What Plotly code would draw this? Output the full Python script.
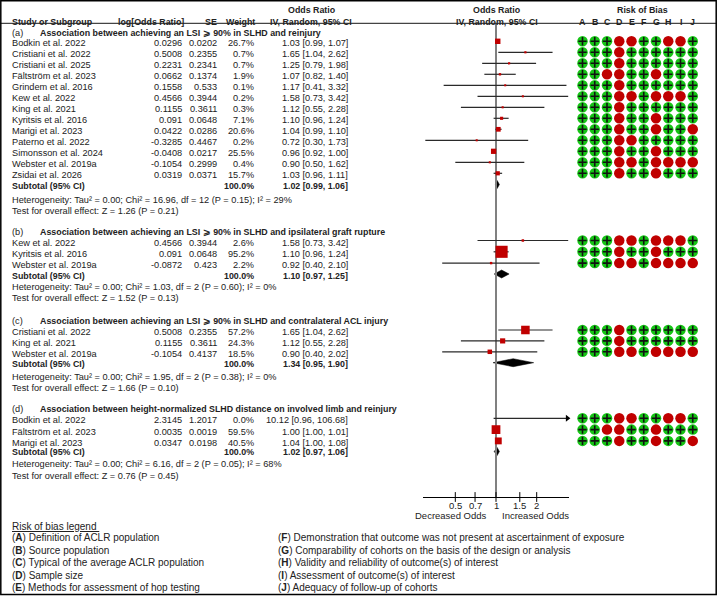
import math
import plotly.graph_objects as go

# ---- data ----
a_study = ["Bodkin et al. 2022", "Cristiani et al. 2022", "Cristiani et al. 2025", "Fältström et al. 2023",
           "Grindem et al. 2016", "Kew et al. 2022", "King et al. 2021", "Kyritsis et al. 2016",
           "Marigi et al. 2023", "Paterno et al. 2022", "Simonsson et al. 2024", "Webster et al. 2019a",
           "Zsidai et al. 2026"]
a_logor = [0.0296, 0.5008, 0.2231, 0.0662, 0.1558, 0.4566, 0.1155, 0.091, 0.0422, -0.3285, -0.0408, -0.1054, 0.0319]
a_se = [0.0202, 0.2355, 0.2341, 0.1374, 0.533, 0.3944, 0.3611, 0.0648, 0.0286, 0.4467, 0.0217, 0.2999, 0.0371]
a_weight = [26.7, 0.7, 0.7, 1.9, 0.1, 0.2, 0.3, 7.1, 20.6, 0.2, 25.5, 0.4, 15.7]
a_or = [1.03, 1.65, 1.25, 1.07, 1.17, 1.58, 1.12, 1.10, 1.04, 0.72, 0.96, 0.90, 1.03]
a_lo = [0.99, 1.04, 0.79, 0.82, 0.41, 0.73, 0.55, 0.96, 0.99, 0.30, 0.92, 0.50, 0.96]
a_hi = [1.07, 2.62, 1.98, 1.40, 3.32, 3.42, 2.28, 1.24, 1.10, 1.73, 1.00, 1.62, 1.11]
a_total = [1.02, 0.99, 1.06]
a_het = "Heterogeneity: Tau² = 0.00; Chi² = 16.96, df = 12 (P = 0.15); I² = 29%"
a_test = "Test for overall effect: Z = 1.26 (P = 0.21)"

b_study = ["Kew et al. 2022", "Kyritsis et al. 2016", "Webster et al. 2019a"]
b_logor = [0.4566, 0.091, -0.0872]
b_se = [0.3944, 0.0648, 0.423]
b_weight = [2.6, 95.2, 2.2]
b_or = [1.58, 1.10, 0.92]
b_lo = [0.73, 0.96, 0.40]
b_hi = [3.42, 1.24, 2.10]
b_total = [1.10, 0.97, 1.25]
b_het = "Heterogeneity: Tau² = 0.00; Chi² = 1.03, df = 2 (P = 0.60); I² = 0%"
b_test = "Test for overall effect: Z = 1.52 (P = 0.13)"

c_study = ["Cristiani et al. 2022", "King et al. 2021", "Webster et al. 2019a"]
c_logor = [0.5008, 0.1155, -0.1054]
c_se = [0.2355, 0.3611, 0.4137]
c_weight = [57.2, 24.3, 18.5]
c_or = [1.65, 1.12, 0.90]
c_lo = [1.04, 0.55, 0.40]
c_hi = [2.62, 2.28, 2.02]
c_total = [1.34, 0.95, 1.90]
c_het = "Heterogeneity: Tau² = 0.00; Chi² = 1.95, df = 2 (P = 0.38); I² = 0%"
c_test = "Test for overall effect: Z = 1.66 (P = 0.10)"

d_study = ["Bodkin et al. 2022", "Fältström et al. 2023", "Marigi et al. 2023"]
d_logor = [2.3145, 0.0035, 0.0347]
d_se = [1.2017, 0.0019, 0.0198]
d_weight = [0.0, 59.5, 40.5]
d_or = [10.12, 1.00, 1.04]
d_lo = [0.96, 1.00, 1.00]
d_hi = [106.68, 1.01, 1.08]
d_total = [1.02, 0.97, 1.06]
d_het = "Heterogeneity: Tau² = 0.00; Chi² = 6.16, df = 2 (P = 0.05); I² = 68%"
d_test = "Test for overall effect: Z = 0.76 (P = 0.45)"

# risk of bias, domains A..J ('+' low risk, '-' high risk)
rob = {
    "Bodkin et al. 2022": "+++--++--+",
    "Cristiani et al. 2022": "+++-++++++",
    "Cristiani et al. 2025": "+++-++++++",
    "Fältström et al. 2023": "++--++-+++",
    "Grindem et al. 2016": "+++-++++++",
    "Kew et al. 2022": "+++--+---+",
    "King et al. 2021": "+++-++++++",
    "Kyritsis et al. 2016": "+++-++-+++",
    "Marigi et al. 2023": "+++-++-++-",
    "Paterno et al. 2022": "+++--+++++",
    "Simonsson et al. 2024": "+++-++-+++",
    "Webster et al. 2019a": "+++--+----",
    "Zsidai et al. 2026": "+++-++-+++",
}
rob_letters = list("ABCDEFGHIJ")

titles = ["Association between achieving an LSI ⩾ 90% in SLHD and reinjury",
          "Association between achieving an LSI ⩾ 90% in SLHD and ipsilateral graft rupture",
          "Association between achieving an LSI ⩾ 90% in SLHD and contralateral ACL injury",
          "Association between height-normalized SLHD distance on involved limb and reinjury"]

legend_left = ["(<b>A</b>) Definition of ACLR population", "(<b>B</b>) Source population",
               "(<b>C</b>) Typical of the average ACLR population", "(<b>D</b>) Sample size",
               "(<b>E</b>) Methods for assessment of hop testing"]
legend_right = ["(<b>F</b>) Demonstration that outcome was not present at ascertainment of exposure",
                "(<b>G</b>) Comparability of cohorts on the basis of the design or analysis",
                "(<b>H</b>) Validity and reliability of outcome(s) of interest",
                "(<b>I</b>) Assessment of outcome(s) of interest",
                "(<b>J</b>) Adequacy of follow-up of cohorts"]

tick_vals = [0.5, 0.7, 1, 1.5, 2]

# ---- layout (pixel coordinates) ----
W, H = 717, 596
FONT = "Liberation Sans, Arial, sans-serif"
FS = 9.2
FSB = 8.85
TXT = "#222222"
RED = "#C00000"
GREEN = "#16C416"
AX_LO, AX_HI = -0.54, 0.54      # log10 range of forest axis
AX_X0, AX_X1 = 423, 569
AX_Y = 497

sections = [
    dict(key="(a)", title=titles[0], study=a_study, logor=a_logor, se=a_se, w=a_weight, o=a_or, lo=a_lo, hi=a_hi,
         tot=a_total, het=a_het, test=a_test, yh=32.5, y0=41.3, step=11.0, ysub=184.5, yhet=199.5, ytest=210.5),
    dict(key="(b)", title=titles[1], study=b_study, logor=b_logor, se=b_se, w=b_weight, o=b_or, lo=b_lo, hi=b_hi,
         tot=b_total, het=b_het, test=b_test, yh=231.7, y0=240.5, step=11.3, ysub=274, yhet=287.3, ytest=298.3),
    dict(key="(c)", title=titles[2], study=c_study, logor=c_logor, se=c_se, w=c_weight, o=c_or, lo=c_lo, hi=c_hi,
         tot=c_total, het=c_het, test=c_test, yh=321, y0=330, step=10.9, ysub=362.7, yhet=377.3, ytest=388.3),
    dict(key="(d)", title=titles[3], study=d_study, logor=d_logor, se=d_se, w=d_weight, o=d_or, lo=d_lo, hi=d_hi,
         tot=d_total, het=d_het, test=d_test, yh=409, y0=418.3, step=11.3, ysub=451.5, yhet=464, ytest=476),
]

X_STUDY, X_LOGOR, X_SE, X_W, X_CI = 10, 184, 218.5, 256, 350
ROB_X0, ROB_DX = 582.5, 12.25

fig = go.Figure()
annotations = []


def ann(x, y, text, anchor="left", size=None, bold=False, color=TXT, xref="x2"):
    if size is None:
        size = FSB if bold else FS
    annotations.append(dict(x=x, y=y, xref=xref, yref="y", showarrow=False, xanchor=anchor, yanchor="middle",
                            text=("<b>%s</b>" % text) if bold else text,
                            font=dict(size=size, color=color, family=FONT)))


# headers
ann(311.5, 9.5, "Odds Ratio", "center", bold=True)
ann(X_STUDY, 21.5, "Study or Subgroup", bold=True)
ann(186, 21.5, "log[Odds Ratio]", "right", bold=True)
ann(218.5, 21.5, "SE", "right", bold=True)
ann(257, 21.5, "Weight", "right", bold=True)
ann(310.5, 21.5, "IV, Random, 95% CI", "center", bold=True)
ann(496.5, 9.5, "Odds Ratio", "center", bold=True)
ann(496.5, 21.5, "IV, Random, 95% CI", "center", bold=True)
ann(642.5, 9.5, "Risk of Bias", "center", bold=True)
for j, L in enumerate(rob_letters):
    ann(ROB_X0 + ROB_DX * j, 21.5, L, "center", bold=True)

ci_x, ci_y = [], []
sq_x, sq_y, sq_s = [], [], []
arrow_y = []
rob_gx, rob_gy, rob_rx, rob_ry = [], [], [], []

for s in sections:
    ann(X_STUDY, s["yh"], s["key"])
    ann(37.5, s["yh"], s["title"], bold=True)
    for i, name in enumerate(s["study"]):
        y = s["y0"] + s["step"] * i
        yt = y + 2
        ann(X_STUDY, yt, name)
        ann(X_LOGOR, yt, str(s["logor"][i]), "right")
        ann(X_SE, yt, str(s["se"][i]), "right")
        ann(X_W, yt, "%.1f%%" % s["w"][i], "right")
        ann(X_CI, yt, "%.2f [%.2f, %.2f]" % (s["o"][i], s["lo"][i], s["hi"][i]), "right")
        hi = s["hi"][i]
        if hi > 10 ** AX_HI:
            hi = 10 ** (AX_HI - 0.012)
            arrow_y.append(y)
        ci_x += [s["lo"][i], hi, None]
        ci_y += [y, y, None]
        if s["o"][i] < 10 ** AX_HI:
            sq_x.append(s["o"][i])
            sq_y.append(y)
            sq_s.append(2 + 10.5 * (s["w"][i] / 100) ** 0.85)
        for j, c in enumerate(rob[name]):
            if c == "+":
                rob_gx.append(ROB_X0 + ROB_DX * j)
                rob_gy.append(y)
            else:
                rob_rx.append(ROB_X0 + ROB_DX * j)
                rob_ry.append(y)
    ysub_t = s["ysub"] + (0.5 if s["key"] == "(d)" else 1.5)
    ann(X_STUDY, ysub_t, "Subtotal (95% CI)", bold=True)
    ann(X_W, ysub_t, "100.0%", "right", bold=True)
    ann(X_CI, ysub_t, "%.2f [%.2f, %.2f]" % tuple(s["tot"]), "right", bold=True)
    ann(X_STUDY, s["yhet"], s["het"])
    ann(X_STUDY, s["ytest"], s["test"])
    o, lo, hi = s["tot"]
    fig.add_trace(go.Scatter(x=[lo, o, hi, o, lo], y=[s["ysub"], s["ysub"] - 4, s["ysub"], s["ysub"] + 4, s["ysub"]],
                             mode="lines", fill="toself", fillcolor="black", line=dict(color="black", width=0.5),
                             xaxis="x", yaxis="y", hoverinfo="skip"))

# vertical line of no effect
fig.add_trace(go.Scatter(x=[1, 1], y=[23.5, AX_Y], mode="lines", line=dict(color="#808080", width=2),
                         xaxis="x", yaxis="y", hoverinfo="skip"))
# confidence intervals
fig.add_trace(go.Scatter(x=ci_x, y=ci_y, mode="lines", line=dict(color="#2a2a2a", width=1.2),
                         xaxis="x", yaxis="y", hoverinfo="skip"))
# arrow for CI beyond the axis
fig.add_trace(go.Scatter(x=[10 ** (AX_HI - 0.012)] * len(arrow_y), y=arrow_y, mode="markers", cliponaxis=False,
                         marker=dict(symbol="triangle-right", size=6, color="black"),
                         xaxis="x", yaxis="y", hoverinfo="skip"))
# study squares
fig.add_trace(go.Scatter(x=sq_x, y=sq_y, mode="markers", cliponaxis=False, opacity=1,
                         marker=dict(symbol="square", size=sq_s, color=RED, opacity=1, line=dict(width=0)),
                         xaxis="x", yaxis="y", hoverinfo="skip"))
# tick marks crossing the axis line
fig.add_trace(go.Scatter(x=tick_vals, y=[AX_Y] * len(tick_vals), mode="markers", cliponaxis=False,
                         marker=dict(symbol="line-ns-open", size=7, color="black", line=dict(width=1, color="black")),
                         xaxis="x", yaxis="y", hoverinfo="skip"))
for v in tick_vals:
    ann(math.log10(v), 505.5, "%g" % v, "center", size=9.5, xref="x")

# risk of bias circles
fig.add_trace(go.Scatter(x=rob_gx, y=rob_gy, mode="markers", xaxis="x2", yaxis="y", hoverinfo="skip",
                         marker=dict(symbol="circle", size=10.5, color=GREEN, line=dict(width=0))))
fig.add_trace(go.Scatter(x=rob_gx, y=rob_gy, mode="markers", xaxis="x2", yaxis="y", hoverinfo="skip",
                         marker=dict(symbol="cross-thin", size=6, color="#111111",
                                     line=dict(width=1.6, color="#111111"))))
fig.add_trace(go.Scatter(x=rob_rx, y=rob_ry, mode="markers", xaxis="x2", yaxis="y", hoverinfo="skip",
                         marker=dict(symbol="circle", size=10.5, color=RED, line=dict(width=0))))

# axis captions
ann(489, 515.5, "Decreased Odds", "right", size=9.5)
ann(500, 515.5, "Increased Odds", "left", size=9.5)

# legend
ann(X_STUDY, 526.5, "<u>Risk of bias legend </u>", size=10)
for i, t in enumerate(legend_left):
    ann(X_STUDY, 537.5 + 12.6 * i, t, size=10)
for i, t in enumerate(legend_right):
    ann(275.5, 537.5 + 12.6 * i, t, size=10)

shapes = [
    dict(type="line", xref="x2", yref="y", x0=0, x1=W, y0=23.3, y1=23.3, line=dict(color="#444444", width=1.2)),
    dict(type="rect", xref="x2", yref="y", x0=0.8, x1=716.2, y0=0.8, y1=594.5, line=dict(color="black", width=1.5)),
]

fig.update_layout(
    width=W, height=H, margin=dict(l=0, r=0, t=0, b=0),
    paper_bgcolor="white", plot_bgcolor="rgba(0,0,0,0)", showlegend=False,
    font=dict(family=FONT, size=FS, color=TXT),
    xaxis=dict(type="log", range=[AX_LO, AX_HI], domain=[AX_X0 / W, AX_X1 / W], anchor="free",
               position=1 - AX_Y / H, showticklabels=False, ticks="",
               showline=True, linecolor="black", linewidth=1,
               showgrid=False, zeroline=False, fixedrange=True),
    xaxis2=dict(range=[0, W], domain=[0, 1], anchor="y", visible=False, fixedrange=True),
    yaxis=dict(range=[H, 0], domain=[0, 1], anchor="x2", visible=False, fixedrange=True),
    annotations=annotations, shapes=shapes,
)

fig.write_html("out.html", config={"displayModeBar": False},
               post_script="document.body.style.margin='0';")
